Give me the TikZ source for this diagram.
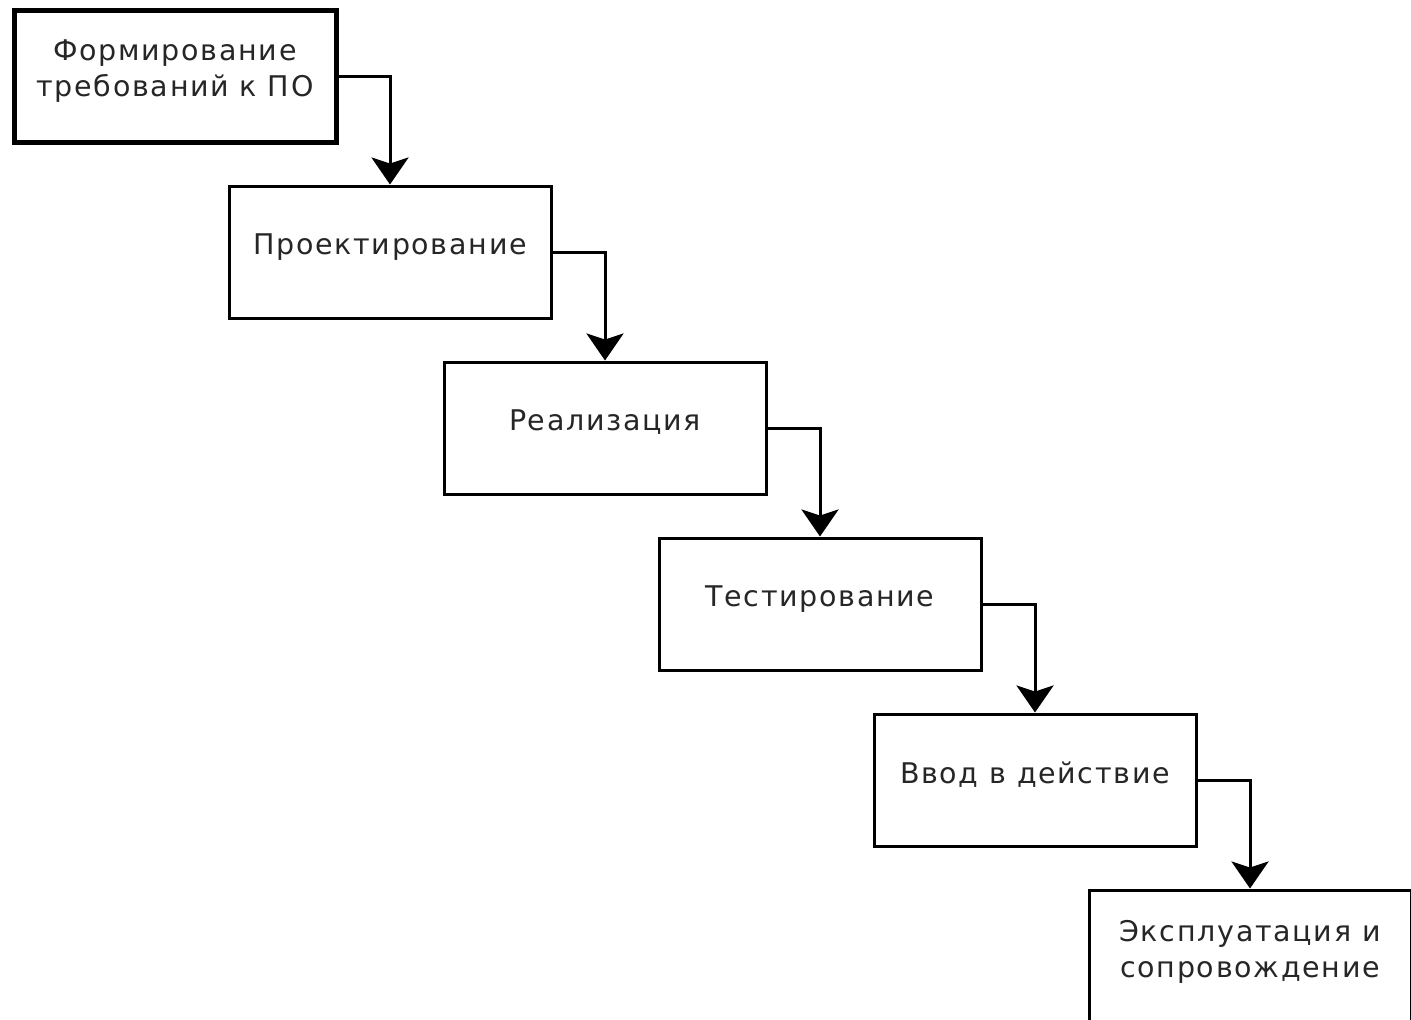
\documentclass[tikz,border=0pt]{standalone}
\usepackage{fontspec}
\setmainfont{DejaVu Sans}[LetterSpace=6]
\usetikzlibrary{arrows.meta}
\tikzset{
	stagebox/.style={draw=black, line width=3pt, fill=white, minimum width=322pt, minimum height=132pt, align=center, inner sep=0pt, text depth=15pt, text=black!85, font=\fontsize{28.5}{36}\selectfont},
	flow/.style={line width=3pt, -{Stealth[length=27pt,width=37pt,inset=6pt]}}
}
\begin{document}
\begin{tikzpicture}[x=1pt,y=-1pt]
			%%%%% START %%%%%
			
			\useasboundingbox (0, 0) rectangle (1411, 1020);
			
			\node[stagebox, line width=5pt] (req) at (175, 76) {Формирование\\требований к ПО};
			\node[stagebox] (design) at (390, 252) {Проектирование};
			\node[stagebox] (impl) at (605, 428) {Реализация};
			\node[stagebox] (test) at (820, 604) {Тестирование};
			\node[stagebox] (deploy) at (1035, 780) {Ввод в действие};
			\node[stagebox] (maint) at (1250, 956) {Эксплуатация и\\сопровождение};
			
			\draw[flow] (req.east) -| (design.north);
			\draw[flow] (design.east) -| (impl.north);
			\draw[flow] (impl.east) -| (test.north);
			\draw[flow] (test.east) -| (deploy.north);
			\draw[flow] (deploy.east) -| (maint.north);
			
			%%%%% END %%%%%
		\end{tikzpicture}
\end{document}
